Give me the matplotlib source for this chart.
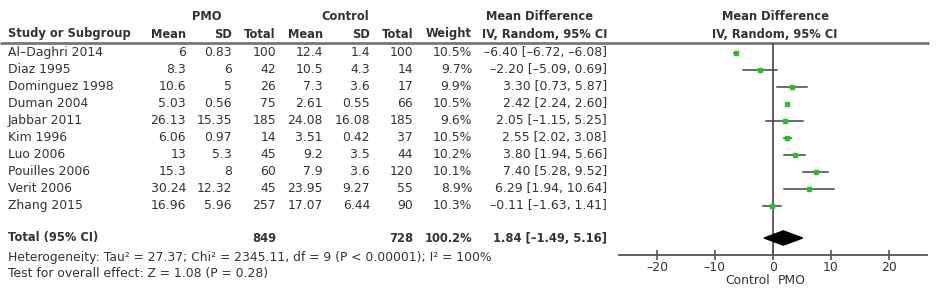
import matplotlib.pyplot as plt
from matplotlib.patches import Polygon

# data
studies = ["Al–Daghri 2014", "Diaz 1995", "Dominguez 1998", "Duman 2004",
           "Jabbar 2011", "Kim 1996", "Luo 2006", "Pouilles 2006",
           "Verit 2006", "Zhang 2015"]
pmo_mean = ["6", "8.3", "10.6", "5.03", "26.13", "6.06", "13", "15.3", "30.24", "16.96"]
pmo_sd = ["0.83", "6", "5", "0.56", "15.35", "0.97", "5.3", "8", "12.32", "5.96"]
pmo_n = [100, 42, 26, 75, 185, 14, 45, 60, 45, 257]
ctl_mean = ["12.4", "10.5", "7.3", "2.61", "24.08", "3.51", "9.2", "7.9", "23.95", "17.07"]
ctl_sd = ["1.4", "4.3", "3.6", "0.55", "16.08", "0.42", "3.5", "3.6", "9.27", "6.44"]
ctl_n = [100, 14, 17, 66, 185, 37, 44, 120, 55, 90]
weights = [10.5, 9.7, 9.9, 10.5, 9.6, 10.5, 10.2, 10.1, 8.9, 10.3]
md = [-6.40, -2.20, 3.30, 2.42, 2.05, 2.55, 3.80, 7.40, 6.29, -0.11]
lo = [-6.72, -5.09, 0.73, 2.24, -1.15, 2.02, 1.94, 5.28, 1.94, -1.63]
hi = [-6.08, 0.69, 5.87, 2.60, 5.25, 3.08, 5.66, 9.52, 10.64, 1.41]
total_md, total_lo, total_hi = 1.84, -1.49, 5.16
ticks = [-20, -10, 0, 10, 20]

TXT = "#333333"
FS = 8.9
FSB = 8.3
W, H = 943, 290


def fmt(v):
    return f"{v:.2f}".replace("-", "–")


fig = plt.figure(figsize=(W / 100, H / 100), dpi=100)
ax = fig.add_axes([0, 0, 1, 1])
ax.set_xlim(0, W)
ax.set_ylim(H, 0)
ax.axis("off")


def row_y(i):
    return 52.5 + 17 * i


def t(x, y, s, ha="right", bold=False):
    ax.text(x, y, s, ha=ha, va="center", fontsize=FSB if bold else FS, color=TXT,
            fontweight="bold" if bold else "normal")


# headers
t(207, 17, "PMO", ha="center", bold=True)
t(345, 17, "Control", ha="center", bold=True)
t(540, 17, "Mean Difference", ha="center", bold=True)
t(775, 17, "Mean Difference", ha="center", bold=True)
cols = [(8, "Study or Subgroup", "left"), (186, "Mean", "right"), (232, "SD", "right"),
        (276, "Total", "right"), (323, "Mean", "right"), (370, "SD", "right"),
        (413, "Total", "right"), (472, "Weight", "right"),
        (607, "IV, Random, 95% CI", "right"), (775, "IV, Random, 95% CI", "center")]
for x, s, ha in cols:
    t(x, 34, s, ha=ha, bold=True)
ax.plot([0, 929], [43, 43], color="#777777", lw=2, solid_capstyle="butt")

for i, name in enumerate(studies):
    y = row_y(i)
    t(8, y, name, ha="left")
    t(186, y, pmo_mean[i])
    t(232, y, pmo_sd[i])
    t(276, y, str(pmo_n[i]))
    t(323, y, ctl_mean[i])
    t(370, y, ctl_sd[i])
    t(413, y, str(ctl_n[i]))
    t(472, y, f"{weights[i]:.1f}%")
    t(607, y, f"{fmt(md[i])} [{fmt(lo[i])}, {fmt(hi[i])}]")

yt = 238
t(8, yt, "Total (95% CI)", ha="left", bold=True)
t(276, yt, str(sum(pmo_n)), bold=True)
t(413, yt, str(sum(ctl_n)), bold=True)
t(472, yt, f"{sum(weights):.1f}%", bold=True)
t(607, yt, f"{fmt(total_md)} [{fmt(total_lo)}, {fmt(total_hi)}]", bold=True)
t(8, 257, "Heterogeneity: Tau² = 27.37; Chi² = 2345.11, df = 9 (P < 0.00001); I² = 100%", ha="left")
t(8, 273, "Test for overall effect: Z = 1.08 (P = 0.28)", ha="left")

# forest panel: x from 619 to 927 px, y from 43 to 255 px
x0, x1 = 619, 927
y0, y1 = 43, 255
fa = fig.add_axes([x0 / W, 1 - y1 / H, (x1 - x0) / W, (y1 - y0) / H])
fa.patch.set_alpha(0)
zero_px = 772.7
ppu = 5.79
fa.set_xlim((x0 - zero_px) / ppu, (x1 - zero_px) / ppu)
fa.set_ylim((y1 - 52.5) / 17, (y0 - 52.5) / 17)
for s in ["top", "left", "right"]:
    fa.spines[s].set_visible(False)
fa.spines["bottom"].set_color("#555555")
fa.spines["bottom"].set_linewidth(1.3)
fa.set_yticks([])
fa.set_xticks(ticks)
fa.set_xticklabels([f"{v}".replace("-", "–") for v in ticks])
fa.tick_params(axis="x", direction="inout", length=7, width=1.2, color="#555555",
               labelsize=FS, labelcolor=TXT, pad=1)
fa.axvline(0, color="#555555", lw=1.3, zorder=1)

for i in range(len(studies)):
    fa.plot([lo[i], hi[i]], [i, i], color="#444444", lw=1.1, zorder=2)
    fa.plot(md[i], i, marker="s", ms=3.2 * (weights[i] / 10.5) ** 0.5,
            color="#22c422", mec="#22c422", zorder=3)

ty = (yt - 52.5) / 17
fa.add_patch(Polygon([[total_lo, ty], [total_md, ty - 0.42], [total_hi, ty],
                      [total_md, ty + 0.42]], closed=True, color="black", zorder=4))

ax.text(770, 281, "Control", ha="right", va="center", fontsize=FS, color=TXT)
ax.text(778, 281, "PMO", ha="left", va="center", fontsize=FS, color=TXT)

fig.savefig("out.png", dpi=100)
